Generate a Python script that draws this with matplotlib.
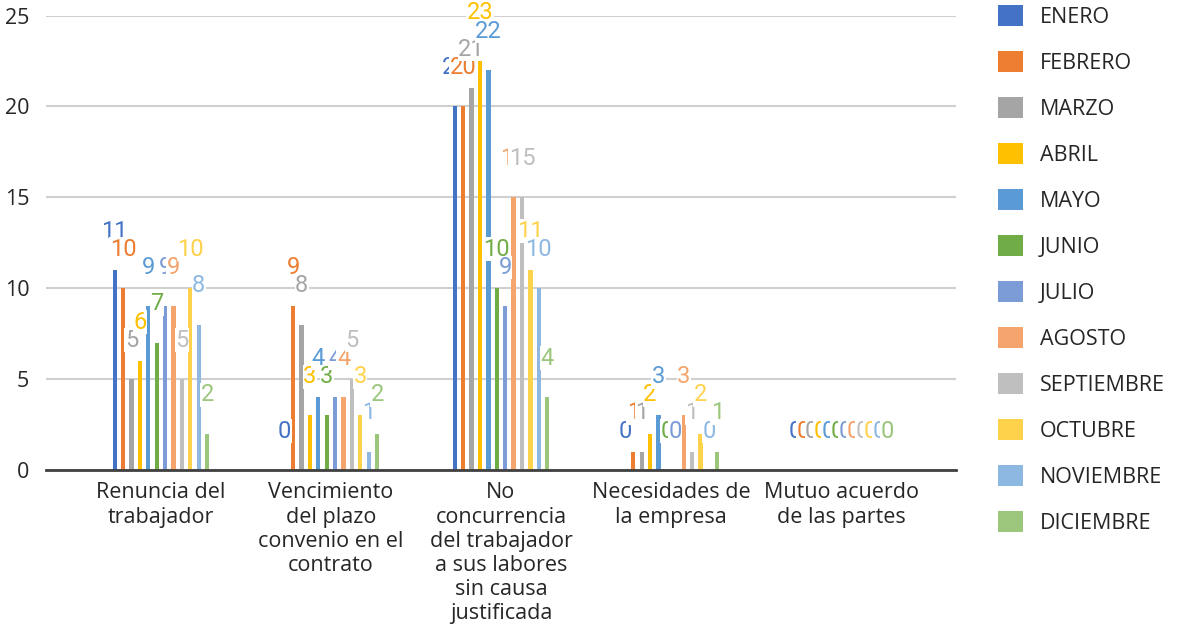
import matplotlib
matplotlib.use("Agg")
import matplotlib.pyplot as plt
import numpy as np

categorias = ["Renuncia del\ntrabajador",
              "Vencimiento\ndel plazo\nconvenio en el\ncontrato",
              "No\nconcurrencia\ndel trabajador\na sus labores\nsin causa\njustificada",
              "Necesidades de\nla empresa",
              "Mutuo acuerdo\nde las partes"]

meses = ["ENERO", "FEBRERO", "MARZO", "ABRIL", "MAYO", "JUNIO", "JULIO",
         "AGOSTO", "SEPTIEMBRE", "OCTUBRE", "NOVIEMBRE", "DICIEMBRE"]

# valores por mes (una entrada por categoria)
enero      = [11, 0, 20, 0, 0]
febrero    = [10, 9, 20, 1, 0]
marzo      = [5, 8, 21, 1, 0]
abril      = [6, 3, 23, 2, 0]
mayo       = [9, 4, 22, 3, 0]
junio      = [7, 3, 10, 0, 0]
julio      = [9, 4, 9, 0, 0]
agosto     = [9, 4, 15, 3, 0]
septiembre = [5, 5, 15, 1, 0]
octubre    = [10, 3, 11, 2, 0]
noviembre  = [8, 1, 10, 0, 0]
diciembre  = [2, 2, 4, 1, 0]

series = [enero, febrero, marzo, abril, mayo, junio, julio,
          agosto, septiembre, octubre, noviembre, diciembre]

colores = ["#4472C4", "#ED7D31", "#A5A5A5", "#FFC000", "#5B9BD5", "#70AD47",
           "#7B9CD6", "#F4A46C", "#BFBFBF", "#FFD24C", "#8DB8E2", "#9BC67C"]

plt.rcParams['font.family'] = ['Open Sans', 'DejaVu Sans']

fig = plt.figure(figsize=(11.78, 6.34), dpi=100)
ax = fig.add_axes([46/1178, 1 - 470/634, 910/1178, (470 - 15.5)/634])

x = np.arange(len(categorias))
paso = 0.0494
ancho = 0.025
for i, (vals, c, m) in enumerate(zip(series, colores, meses)):
    pos = x + (i - 5.5) * paso
    ax.bar(pos, vals, width=ancho, color=c, label=m, zorder=3)

# etiquetas encima de todo
for i, (vals, c) in enumerate(zip(series, colores)):
    pos = x + (i - 5.5) * paso
    for xp, v in zip(pos, vals):
        ax.annotate(str(v), (xp, v), xytext=(0, 28), textcoords='offset points',
                    ha='center', va='center', color=c, fontsize=17,
                    family=['Roboto', 'DejaVu Sans'], zorder=5,
                    bbox=dict(boxstyle='square,pad=0.02', fc='white', ec='none'))

ax.set_xlim(-0.676, 4.676)
ax.set_ylim(0, 25)
ax.set_yticks([0, 5, 10, 15, 20, 25])
ax.set_xticks(x)
ax.set_xticklabels(categorias, fontsize=15.5, color='#262626', linespacing=1.2,
                   va='top')
ax.tick_params(axis='y', labelsize=15.5, labelcolor='#262626', length=0, pad=12)
ax.tick_params(axis='x', length=0, pad=9)
ax.grid(axis='y', color='#D0D0D0', linewidth=1.5, zorder=0)
ax.set_axisbelow(True)
for s in ['top', 'right', 'left']:
    ax.spines[s].set_visible(False)
ax.spines['bottom'].set_color('#404040')
ax.spines['bottom'].set_linewidth(2)
ax.spines['bottom'].set_zorder(4)

leg = ax.legend(loc='upper left', bbox_to_anchor=(998/1178, 1 - 5/634), bbox_transform=fig.transFigure,
                frameon=False, fontsize=15.5, handlelength=1.15, handleheight=1.15,
                handletextpad=0.8, labelspacing=1.07, borderaxespad=0, borderpad=0)
for t in leg.get_texts():
    t.set_color('#262626')

fig.savefig("out.png", dpi=100)
